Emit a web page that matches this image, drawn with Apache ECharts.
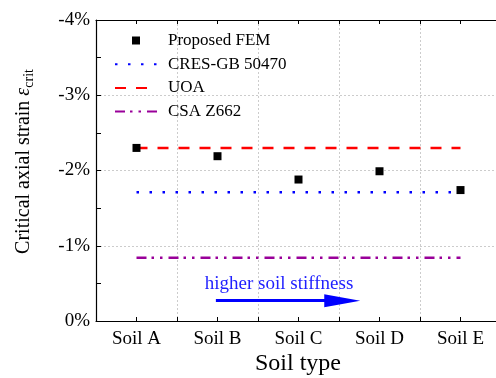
<!DOCTYPE html>
<html><head><meta charset="utf-8">
<script src="https://cdn.jsdelivr.net/npm/echarts@6/dist/echarts.min.js"></script>
<style>html,body{margin:0;padding:0;background:#fff}#c{width:496px;height:378px}</style>
</head><body><div id="c"></div>
<script>
var categories = ['Soil A', 'Soil B', 'Soil C', 'Soil D', 'Soil E'];
var femValues = [-2.30, -2.19, -1.88, -1.99, -1.74];
var cresValues = [-1.71, -1.71, -1.71, -1.71, -1.71];
var uoaValues = [-2.30, -2.30, -2.30, -2.30, -2.30];
var csaValues = [-0.84, -0.84, -0.84, -0.84, -0.84];
var yTicks = [0, -1, -2, -3, -4];
var arrowStart = [1.98, -0.27];
var arrowEnd = [3.54, -0.27];
var arrowText = 'higher soil stiffness';
var xTitle = 'Soil type';

var F = 'Liberation Serif';
function pts(vals){ return vals.map(function(v,i){ return [i+1, v]; }); }
var chart = echarts.init(document.getElementById('c'));
var xBase = {
  type: 'value', min: 0.5, max: 5.5, interval: 1,
  axisLine: {show: true, lineStyle: {color: '#000', width: 1.2}},
  axisTick: {show: true, inside: true, length: 4, lineStyle: {color: '#000'}},
  minorTick: {show: true, splitNumber: 2, length: 4, lineStyle: {color: '#000'}},
  axisLabel: {show: false},
  splitLine: {show: false}
};
var hide = {itemStyle: {color: 'rgba(0,0,0,0)', opacity: 0, borderWidth: 0}};
chart.setOption({
  animation: false,
  title: {text: xTitle, left: 298, top: 352, textAlign: 'center', padding: 0,
    textStyle: {fontFamily: F, fontSize: 24, fontWeight: 'normal', color: '#000'}},
  grid: {left: 96, top: 20, right: -5, bottom: 57, outerBoundsMode: 'none'},
  xAxis: [
    Object.assign({}, xBase, {
      position: 'bottom',
      splitLine: {show: true, lineStyle: {color: '#cccccc', type: [2,2], width: 1}}
    }),
    Object.assign({}, xBase, {position: 'top'}),
    {type: 'category', data: categories, position: 'bottom', boundaryGap: true,
      axisLine: {show: false}, axisTick: {show: false}, splitLine: {show: false},
      axisLabel: {show: true, interval: 0, fontFamily: F, fontSize: 19, color: '#000', margin: 9}}
  ],
  yAxis: {
    type: 'value', min: -4, max: 0, interval: 1, inverse: true,
    axisLine: {show: true, lineStyle: {color: '#000', width: 1.2}},
    axisTick: {show: true, inside: true, length: 5, lineStyle: {color: '#000'}},
    minorTick: {show: true, splitNumber: 2, length: 5, lineStyle: {color: '#000'}},
    splitLine: {show: true, lineStyle: {color: '#cccccc', type: [2,2], width: 1}},
    axisLabel: {fontFamily: F, fontSize: 19, color: '#000', margin: 6,
      formatter: function(v){ return yTicks.indexOf(v) >= 0 ? v + '%' : ''; }},
    name: '{a|Critical axial strain }{e|ε}{s|crit}', nameLocation: 'middle', nameGap: 60,
    nameTextStyle: {fontFamily: F, fontSize: 20, color: '#000', padding: [0,0,0,18],
      rich: {a: {fontFamily: F, fontSize: 20, color: '#000'},
             e: {fontFamily: F, fontSize: 20, fontStyle: 'italic', color: '#000'},
             s: {fontFamily: F, fontSize: 14, color: '#000', padding: [10,0,0,0]}}}
  },
  legend: {
    orient: 'vertical', left: 109, top: 27, itemWidth: 42, itemHeight: 10, itemGap: 6.7,
    textStyle: {fontFamily: F, fontSize: 17, color: '#000', padding: [0,0,0,6]},
    data: [{name: 'Proposed FEM'},
           Object.assign({name: 'CRES-GB 50470'}, hide),
           Object.assign({name: 'UOA'}, hide),
           Object.assign({name: 'CSA Z662'}, hide)]
  },
  series: [
    {name: 'CRES-GB 50470', type: 'line', data: pts(cresValues), symbol: 'none',
      lineStyle: {color: '#0000ff', width: 2.5, type: [2.5, 10.5]}, itemStyle: {color: '#0000ff'}},
    {name: 'UOA', type: 'line', data: pts(uoaValues), symbol: 'none',
      lineStyle: {color: '#ff0000', width: 2.5, type: [11, 10]}, itemStyle: {color: '#ff0000'}},
    {name: 'CSA Z662', type: 'line', data: pts(csaValues), symbol: 'none',
      lineStyle: {color: '#990099', width: 2.5, type: [10, 5, 2.5, 6, 2.5, 6]}, itemStyle: {color: '#990099'}},
    {name: 'Proposed FEM', type: 'line', data: pts(femValues), symbol: 'rect', symbolSize: 8, showSymbol: true,
      lineStyle: {color: 'rgba(0,0,0,0)', width: 0}, itemStyle: {color: '#000'}, z: 5},
    {name: 'arrow', type: 'line', data: [], symbol: 'none',
      markLine: {silent: true, symbol: ['none', 'triangle'], symbolSize: [13, 36],
        lineStyle: {color: '#0000ff', width: 3, type: 'solid'},
        label: {show: true, position: 'middle', formatter: arrowText, distance: 7,
          fontFamily: F, fontSize: 19, color: '#1f1fff'},
        data: [[{coord: arrowStart}, {coord: arrowEnd}]]}}
  ]
});
</script></body></html>
